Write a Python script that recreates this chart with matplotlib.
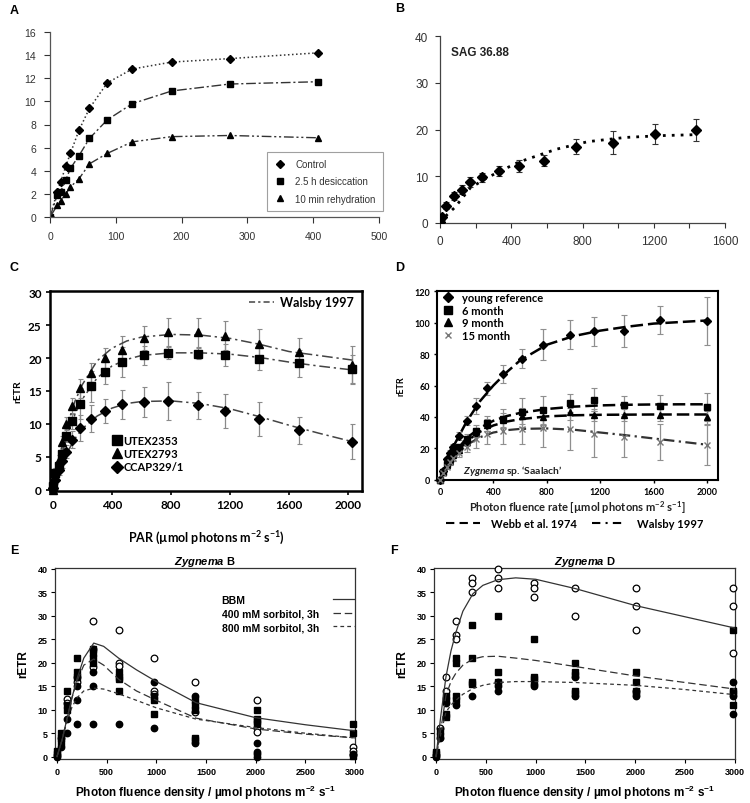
import matplotlib
matplotlib.use('Agg')
import matplotlib.pyplot as plt
from matplotlib.lines import Line2D

plt.rcParams['font.family'] = ['Liberation Sans', 'DejaVu Sans']
plt.rcParams['mathtext.fontset'] = 'custom'
plt.rcParams['mathtext.default'] = 'regular'
plt.rcParams['mathtext.it'] = 'Lato:italic:bold'
plt.rcParams['mathtext.bfit'] = 'Liberation Sans:italic:bold'

# ---------------- Panel A data ----------------
a_x = [0, 11, 16, 24, 31, 44, 60, 87, 125, 185, 273, 408]
a_control = [0, 2.2, 3.0, 4.4, 5.5, 7.5, 9.4, 11.6, 12.8, 13.4, 13.7, 14.2]
a_desicc = [0, 1.9, 2.2, 3.2, 4.2, 5.3, 6.8, 8.4, 9.8, 10.9, 11.5, 11.7]
a_rehyd = [0, 1.0, 1.4, 2.0, 2.6, 3.3, 4.6, 5.5, 6.5, 6.95, 7.05, 6.85]
a_labels = ["Control", "2.5 h desiccation", "10 min rehydration"]

# ---------------- Panel B data ----------------
b_x = [0, 10, 34, 79, 122, 168, 238, 331, 444, 584, 762, 970, 1208, 1438]
b_y = [0.3, 1.2, 3.7, 5.8, 7.1, 8.8, 9.75, 11.1, 12.2, 13.3, 16.3, 17.2, 19.1, 19.9]
b_err = [0.5, 0.6, 0.8, 0.9, 1.0, 1.0, 0.9, 1.0, 1.3, 1.2, 1.6, 2.4, 2.1, 2.3]
b_fit_x = [0, 40, 85, 170, 270, 440, 585, 655, 830, 1040, 1250, 1440]
b_fit_y = [0, 1.8, 3.4, 7.5, 9.8, 13.0, 14.9, 15.8, 17.4, 18.3, 18.7, 18.9]

# ---------------- Panel C data ----------------
c_x = [0, 15, 40, 60, 90, 130, 185, 260, 355, 470, 615, 780, 980, 1165, 1395, 1670, 2025]
c_utex2353 = [0.5, 2.5, 3.6, 5.4, 8.2, 10.5, 13.1, 15.7, 17.9, 19.4, 20.4, 20.8, 20.7, 20.5, 19.9, 19.2, 18.3]
c_utex2353_err = [0.5, 0.8, 0.8, 1.0, 1.0, 1.2, 2.3, 2.3, 1.8, 2.3, 1.5, 1.0, 0.8, 1.7, 1.7, 2.0, 2.2]
c_utex2793 = [0, 2.5, 4.5, 7.2, 10.0, 12.7, 15.4, 17.8, 20.0, 21.3, 23.1, 23.9, 23.9, 23.4, 22.2, 21.0, 19.0]
c_utex2793_err = [0.5, 0.8, 0.8, 1.0, 1.0, 1.2, 1.5, 1.5, 1.5, 2.0, 1.8, 2.2, 2.2, 2.2, 2.2, 2.0, 2.8]
c_ccap = [0.2, 1.5, 3.0, 4.3, 5.8, 7.6, 9.4, 10.8, 12.0, 13.0, 13.35, 13.45, 12.8, 12.0, 10.8, 9.0, 7.3]
c_ccap_err = [0.3, 0.6, 0.8, 1.0, 1.0, 1.3, 2.0, 2.0, 1.8, 2.2, 2.3, 2.9, 2.1, 2.6, 2.6, 2.1, 2.7]
c_fit_x = [0, 50, 100, 150, 200, 300, 400, 500, 600, 800, 1000, 1200, 1400, 1600, 1800, 2030]
c_fit_2793 = [0, 5.5, 10.0, 13.5, 16.0, 19.6, 21.5, 22.6, 23.2, 23.6, 23.5, 23.0, 22.1, 21.0, 20.4, 19.7]
c_fit_2353 = [0, 4.5, 8.5, 11.5, 13.8, 17.0, 18.8, 19.8, 20.4, 20.8, 20.8, 20.6, 20.1, 19.4, 18.8, 18.2]
c_fit_ccap = [0, 3.2, 5.8, 7.8, 9.3, 11.2, 12.4, 13.1, 13.4, 13.5, 13.1, 12.3, 11.1, 9.8, 8.6, 7.3]
c_labels = ["UTEX2353", "UTEX2793", "CCAP329/1"]

# ---------------- Panel D data ----------------
d_x = [0, 25, 50, 75, 100, 140, 200, 270, 355, 475, 615, 775, 975, 1150, 1375, 1650, 2000]
d_young = [0, 5.7, 13, 17, 20.5, 28, 37.5, 47, 58.2, 67.5, 77.2, 86.1, 92.5, 94.7, 94.7, 102, 101.4]
d_young_err = [0.5, 1, 1.5, 2, 2, 2.5, 3, 5, 4.2, 5.8, 6.2, 9.8, 9.5, 9.3, 10.2, 9, 15.3]
d_6m = [0, 5, 10, 13, 17, 20.5, 25.8, 31.1, 35.8, 38.9, 42.8, 44.2, 48.9, 51, 47.6, 46.8, 46.3]
d_6m_err = [0.5, 1, 1, 1.5, 2, 2, 3, 3.7, 4.8, 5.8, 9.3, 9, 5.6, 7.4, 5.6, 7.4, 9.2]
d_9m = [0, 4.5, 9, 12, 15.5, 19, 24, 30, 34.9, 37.9, 40.6, 40, 42.8, 41.1, 41.1, 41.1, 39.6]
d_9m_err = [0.5, 1, 1, 1.5, 1.5, 2, 2.5, 3, 4, 4.5, 5, 5, 4.5, 4, 4, 4, 4]
d_15m = [0, 4, 8, 11, 14, 17, 21, 25.8, 29, 31.1, 32.2, 32.8, 32.2, 29, 27.3, 24.1, 22.2]
d_15m_err = [0.5, 1, 1, 1.5, 2, 2.5, 3.5, 5.8, 6.3, 8.2, 9.5, 12, 13.4, 14.8, 13, 11.6, 12.7]
d_fit_x = [0, 100, 200, 300, 400, 500, 600, 800, 1000, 1200, 1400, 1600, 1800, 2000]
d_fit_young = [0, 21, 37, 50, 60, 68.5, 76, 86, 91.5, 95, 97.5, 99.5, 100.5, 101.5]
d_fit_6m = [0, 16, 26.5, 33, 37.5, 40.5, 42.5, 45, 46.5, 47.3, 47.7, 47.9, 48, 48]
d_fit_9m = [0, 15, 24.5, 30.5, 34.5, 37, 38.5, 40.3, 41, 41.3, 41.4, 41.5, 41.5, 41.5]
d_fit_15m = [0, 14, 22, 27, 30, 31.5, 32.3, 32.6, 31.8, 30, 28.2, 26.2, 24.2, 22.2]
d_labels = ["young reference", "6 month", "9 month", "15 month"]

# ---------------- Panel E data ----------------
e_open_x = [0, 40, 100, 100, 200, 200, 360, 360, 360, 620, 620, 620, 980, 980, 980, 1390, 1390, 2010, 2010, 2010, 2980, 2980, 2980]
e_open_y = [0.3, 4.0, 12.3, 11.5, 16, 17, 29, 23, 19, 27, 20, 19.3, 21, 14, 13.3, 16, 9.5, 12, 6, 5.2, 2.1, 1.2, 0.3]
e_sq_x = [0, 0, 40, 40, 40, 100, 100, 100, 200, 200, 200, 360, 360, 360, 360, 620, 620, 620, 620, 980, 980, 980, 1390, 1390, 1390, 1390, 1390, 2010, 2010, 2010, 2010, 2980, 2980, 2980]
e_sq_y = [0.5, 1.2, 5, 4, 3, 14, 11, 10, 21, 18, 17, 23, 22, 21, 20, 18, 17, 16.5, 14, 13, 12, 9, 12, 11, 10, 4, 3.5, 10, 8, 7.5, 7, 7, 5, 0.2]
e_fill_x = [0, 40, 100, 100, 200, 200, 200, 360, 360, 360, 620, 980, 980, 1390, 1390, 2010, 2010, 2010, 2010, 2980]
e_fill_y = [0, 2, 8, 5, 15, 12, 7, 18, 15, 7, 7, 16, 6, 13, 3, 3, 1, 0.5, 0, 0.5]
ef_fit_x = [0, 50, 100, 150, 200, 270, 370, 470, 620, 800, 1000, 1400, 2000, 2500, 3000]
e_fit_bbm = [0, 3.5, 8, 12.5, 16.5, 21, 24.2, 23.5, 21, 18.5, 16, 11.5, 8.3, 6.8, 5.5]
e_fit_400 = [0, 3.5, 8, 12.5, 16, 19.5, 20.8, 19.5, 16.5, 14, 12, 8.2, 5.9, 4.8, 4.0]
e_fit_800 = [0, 3.5, 7.5, 10.5, 12.5, 14, 14.6, 14.4, 13.4, 12, 10.4, 8.0, 6.2, 5.0, 4.0]
ef_labels = ["BBM", "400 mM sorbitol, 3h", "800 mM sorbitol, 3h"]

# ---------------- Panel F data ----------------
f_open_x = [0, 40, 100, 100, 200, 200, 200, 360, 360, 360, 620, 620, 620, 980, 980, 980, 1390, 1390, 2010, 2010, 2010, 2980, 2980, 2980]
f_open_y = [0.3, 6, 17, 14, 29, 26, 25, 38, 37, 35, 40, 38, 36, 37, 36, 34, 36, 30, 36, 32, 27, 36, 32, 22]
f_sq_x = [0, 0, 40, 40, 100, 100, 100, 100, 200, 200, 200, 200, 360, 360, 360, 360, 620, 620, 620, 980, 980, 980, 1390, 1390, 1390, 1390, 1390, 2010, 2010, 2010, 2010, 2980, 2980, 2980, 2980]
f_sq_y = [1, 0.5, 5.5, 4.5, 13, 12, 9, 8.5, 21, 20, 13, 12, 28, 21, 16, 15.5, 30, 18, 16, 25, 17, 16.5, 20, 18, 17.5, 14, 13.5, 18, 16, 14, 13.5, 27, 14, 13.5, 11]
f_fill_x = [0, 40, 100, 200, 360, 620, 620, 620, 980, 980, 1390, 1390, 2010, 2010, 2980, 2980, 2980]
f_fill_y = [0, 4, 11.5, 11, 13, 14, 15, 16, 15, 15.5, 13, 17, 13, 14, 16, 13, 9]
f_fit_bbm = [0, 9, 17, 22.5, 26.5, 31, 34.7, 36.5, 37.7, 38.1, 37.8, 35.8, 32.2, 29.8, 27.4]
f_fit_400 = [0, 6, 13, 16, 17.8, 19.5, 20.8, 21.3, 21.4, 21, 20.5, 19.2, 17.2, 15.8, 14.4]
f_fit_800 = [0, 5, 9.5, 11, 12, 13.3, 14.5, 15.2, 15.8, 16.0, 16.0, 15.8, 15.2, 14.3, 13.2]

W, H = 750, 804
fig = plt.figure(figsize=(7.5, 8.04), dpi=100)


def axes_px(l, t, r, b):
    return fig.add_axes([l / W, 1 - b / H, (r - l) / W, (b - t) / H])


def panel_label(x, y, s):
    fig.text(x / W, 1 - y / H, s, fontsize=9, fontweight='bold', ha='left', va='center',
             family=['Liberation Sans'])


# ================= Panel A =================
axA = axes_px(50, 33, 379, 218)
lc = '#333333'
axA.plot(a_x, a_control, ls=':', color=lc, lw=1.1, marker='D', ms=3.8, mfc='black', mec='black')
axA.plot(a_x, a_desicc, ls=(0, (7, 2, 1.5, 2)), color=lc, lw=1.0, marker='s', ms=4, mfc='black', mec='black')
axA.plot(a_x, a_rehyd, ls=(0, (7, 2, 1.5, 2, 1.5, 2)), color=lc, lw=1.0, marker='^', ms=4, mfc='black', mec='black')
axA.set_xlim(0, 500)
axA.set_ylim(0, 16)
axA.set_xticks(range(0, 501, 100))
axA.set_yticks(range(0, 17, 2))
for s in ['top', 'right']:
    axA.spines[s].set_visible(False)
for s in ['left', 'bottom']:
    axA.spines[s].set_color('#555555')
    axA.spines[s].set_linewidth(0.9)
axA.tick_params(labelsize=7.5, colors='#333333', length=4, width=0.8, pad=6)
hA = [Line2D([], [], ls='none', marker=m, ms=ms, color='black') for m, ms in [('D', 3.8), ('s', 4), ('^', 4)]]
legA = axA.legend(hA, a_labels, loc='lower left', bbox_to_anchor=(0.66, 0.035), fontsize=7,
                  frameon=True, fancybox=False, edgecolor='#888888', borderaxespad=0,
                  handlelength=1.2, handletextpad=1.0, labelspacing=0.75, borderpad=0.7)
legA.get_frame().set_linewidth(0.8)
for t in legA.get_texts():
    t.set_color('#333333')
panel_label(10, 11, 'A')

# ================= Panel B =================
axB = axes_px(440, 37, 725, 224)
axB.errorbar(b_x, b_y, yerr=b_err, fmt='D', ms=5.5, color='black', ecolor='#333333',
             elinewidth=0.8, capsize=2, capthick=0.8, zorder=3)
axB.plot(b_fit_x, b_fit_y, ls=(0, (1, 2.2)), color='black', lw=2.0, zorder=2)
axB.set_xlim(0, 1600)
axB.set_ylim(0, 40)
axB.set_xticks(range(0, 1601, 400))
axB.set_xticks(range(0, 1601, 200), minor=True)
axB.set_yticks(range(0, 41, 10))
for s in ['top', 'right']:
    axB.spines[s].set_visible(False)
for s in ['left', 'bottom']:
    axB.spines[s].set_color('#444444')
    axB.spines[s].set_linewidth(0.9)
axB.tick_params(which='both', labelsize=8.5, colors='#333333', length=3.5, width=0.8, pad=5)
axB.text(0.04, 0.9, 'SAG 36.88', transform=axB.transAxes, fontsize=8.5, fontweight='bold',
         color='#222222')
panel_label(395, 9, 'B')

# ================= Panel C =================
lato = ['Lato', 'DejaVu Sans']
axC = axes_px(50, 292, 362, 492)
ecol = '#8a8a8a'
for ys, es in [(c_utex2353, c_utex2353_err), (c_utex2793, c_utex2793_err), (c_ccap, c_ccap_err)]:
    axC.errorbar(c_x, ys, yerr=es, fmt='none', ecolor=ecol, elinewidth=0.9, capsize=1.8, capthick=0.8, zorder=1)
for fy in [c_fit_2793, c_fit_2353, c_fit_ccap]:
    axC.plot(c_fit_x, fy, ls=(0, (7, 2.5, 1.5, 2.5)), color='#444444', lw=1.1, zorder=2)
axC.plot(c_x, c_utex2353, ls='none', marker='s', ms=5.5, color='black', zorder=3, clip_on=False)
axC.plot(c_x, c_utex2793, ls='none', marker='^', ms=6, color='black', zorder=3, clip_on=False)
axC.plot(c_x, c_ccap, ls='none', marker='D', ms=4.6, color='black', zorder=3, clip_on=False)
axC.set_xlim(-20, 2095)
axC.set_ylim(-0.2, 30.2)
axC.set_xticks(range(0, 2001, 400))
axC.set_yticks(range(0, 31, 5))
for s in axC.spines.values():
    s.set_linewidth(1.8)
axC.tick_params(labelsize=8.5, length=3, width=1.2, pad=3)
for t in axC.get_xticklabels() + axC.get_yticklabels():
    t.set_family(lato)
    t.set_fontweight('bold')
axC.set_ylabel('rETR', fontsize=7.5, fontweight='bold', family=lato, labelpad=4)
axC.set_xlabel('PAR (µmol photons m$^{-2}$ s$^{-1}$)', fontsize=9, fontweight='bold', family=lato, labelpad=13)
hC = [Line2D([], [], ls='none', marker=m, ms=ms, color='black') for m, ms in [('s', 7), ('^', 7.5), ('D', 6)]]
legC1 = axC.legend(hC, c_labels, loc='upper left', bbox_to_anchor=(0.2, 0.28), frameon=False,
                   handlelength=0.8, handletextpad=0.2, labelspacing=0.2, borderaxespad=0, borderpad=0,
                   prop={'family': lato, 'weight': 'bold', 'size': 8})
axC.add_artist(legC1)
axC.legend([Line2D([], [], ls=(0, (4, 2, 1.5, 2)), color='#444444', lw=1.1)], ['Walsby 1997'],
           loc='upper right', bbox_to_anchor=(0.975, 0.975), frameon=False, handlelength=2.0,
           handletextpad=0.5, borderaxespad=0, borderpad=0,
           prop={'family': lato, 'weight': 'bold', 'size': 9})
panel_label(10, 268, 'C')

# ================= Panel D =================
axD = axes_px(437, 292, 718, 481)
ecolD = '#8f8f8f'
for ys, es in [(d_young, d_young_err), (d_6m, d_6m_err), (d_9m, d_9m_err), (d_15m, d_15m_err)]:
    axD.errorbar(d_x, ys, yerr=es, fmt='none', ecolor=ecolD, elinewidth=0.9, capsize=2.2, capthick=0.8, zorder=1)
webb = (0, (5, 2))
axD.plot(d_fit_x, d_fit_young, ls=webb, color='black', lw=1.8, zorder=2)
axD.plot(d_fit_x, d_fit_6m, ls=webb, color='black', lw=1.8, zorder=2)
axD.plot(d_fit_x, d_fit_9m, ls=webb, color='black', lw=1.8, zorder=2)
axD.plot(d_fit_x, d_fit_15m, ls=(0, (5, 2, 1, 2)), color='#333333', lw=1.6, zorder=2)
axD.plot(d_x, d_young, ls='none', marker='D', ms=4.5, color='black', zorder=3, clip_on=False)
axD.plot(d_x, d_6m, ls='none', marker='s', ms=5, color='black', zorder=3, clip_on=False)
axD.plot(d_x, d_9m, ls='none', marker='^', ms=5, color='black', zorder=3, clip_on=False)
axD.plot(d_x, d_15m, ls='none', marker='x', ms=5, color='#777777', mew=1.0, zorder=3, clip_on=False)
axD.set_xlim(-22, 2082)
axD.set_ylim(-0.3, 120.3)
axD.set_xticks(range(0, 2001, 400))
axD.set_yticks(range(0, 121, 20))
for s in axD.spines.values():
    s.set_linewidth(1.5)
axD.tick_params(labelsize=6.5, length=2, width=1, pad=3)
for t in axD.get_xticklabels() + axD.get_yticklabels():
    t.set_family(lato)
    t.set_fontweight('bold')
axD.set_ylabel('rETR', fontsize=6.5, fontweight='bold', family=lato, labelpad=6)
axD.set_xlabel('Photon fluence rate [µmol photons m$^{-2}$ s$^{-1}$]', fontsize=8, fontweight='bold',
               family=lato, labelpad=2, color='#222222')
hD = [Line2D([], [], ls='none', marker='D', ms=5, color='black'),
      Line2D([], [], ls='none', marker='s', ms=5.5, color='black'),
      Line2D([], [], ls='none', marker='^', ms=5.5, color='black'),
      Line2D([], [], ls='none', marker='x', ms=5, color='#777777')]
legD1 = axD.legend(hD, d_labels, loc='upper left', bbox_to_anchor=(0.02, 0.995), frameon=False,
                   handlelength=0.9, handletextpad=0.8, labelspacing=0.15, borderaxespad=0, borderpad=0,
                   prop={'family': lato, 'weight': 'bold', 'size': 8})
axD.add_artist(legD1)
axD.text(0.27, 0.055, r"$\mathit{Zygnema}$ sp. ‘Saalach’", transform=axD.transAxes, fontsize=7.5,
         fontweight='bold', family=lato, ha='center', va='center', color='#222222')
axD.legend([Line2D([], [], ls=(0, (4, 2.5)), color='black', lw=1.5),
            Line2D([], [], ls=(0, (4, 2.5, 1, 2.5)), color='black', lw=1.5)],
           ['Webb et al. 1974', 'Walsby 1997'], loc='upper center', bbox_to_anchor=(0.49, -0.2),
           ncol=2, frameon=False, handlelength=3.0, handletextpad=1.0, columnspacing=1.4,
           borderaxespad=0, borderpad=0, prop={'family': lato, 'weight': 'bold', 'size': 8})
panel_label(395, 268, 'D')


# ================= Panels E, F =================
def zyg_panel(ax, ox, oy, sx, sy, fx, fy, fits, title):
    ax.plot(ox, oy, ls='none', marker='o', ms=4.8, mfc='white', mec='black', mew=0.9, zorder=3, clip_on=False)
    ax.plot(sx, sy, ls='none', marker='s', ms=4.6, color='black', zorder=3, clip_on=False)
    ax.plot(fx, fy, ls='none', marker='o', ms=4.6, color='black', zorder=3, clip_on=False)
    styles = ['-', (0, (6, 3)), (0, (3, 2.5))]
    for fit, st in zip(fits, styles):
        ax.plot(ef_fit_x, fit, ls=st, color='#333333', lw=0.9, zorder=4)
    ax.set_xlim(-20, 3000)
    ax.set_ylim(-0.5, 40.2)
    ax.set_xticks(range(0, 3001, 500))
    ax.set_yticks(range(0, 41, 5))
    for s in ax.spines.values():
        s.set_linewidth(0.9)
        s.set_color('#333333')
    ax.tick_params(labelsize=6.5, length=3, width=0.8, pad=2.5)
    for t in ax.get_xticklabels() + ax.get_yticklabels():
        t.set_fontweight('bold')
    ax.set_ylabel('rETR', fontsize=8.5, fontweight='bold', labelpad=6)
    ax.set_xlabel('Photon fluence density / µmol photons m$^{-2}$ s$^{-1}$', fontsize=8.5,
                  fontweight='bold', labelpad=5)
    ax.set_title(r'$\mathbfit{Zygnema}$ ' + title, fontsize=8, fontweight='bold', pad=3)


axE = axes_px(55, 569, 355, 760)
zyg_panel(axE, e_open_x, e_open_y, e_sq_x, e_sq_y, e_fill_x, e_fill_y,
          [e_fit_bbm, e_fit_400, e_fit_800], 'B')
# legend: left-aligned labels with the line samples at the right edge
ef_styles = ['-', (0, (6, 3)), (0, (3, 2.5))]
leg_kw = dict(frameon=False, labelspacing=0.35, borderaxespad=0, borderpad=0,
              prop={'weight': 'bold', 'size': 7.5})
legE_txt = axE.legend([Line2D([], [], ls='none') for _ in ef_labels], ef_labels, loc='upper left',
                      bbox_to_anchor=(0.555, 0.86), handlelength=0, handletextpad=0, **leg_kw)
axE.add_artist(legE_txt)
axE.legend([Line2D([], [], ls=st, color='#333333', lw=0.9) for st in ef_styles], [' '] * 3,
           loc='upper right', bbox_to_anchor=(0.995, 0.86), handlelength=2.0, handletextpad=0,
           markerfirst=False, **leg_kw)
panel_label(10, 551, 'E')

axF = axes_px(434, 569, 735, 760)
zyg_panel(axF, f_open_x, f_open_y, f_sq_x, f_sq_y, f_fill_x, f_fill_y,
          [f_fit_bbm, f_fit_400, f_fit_800], 'D')
panel_label(390, 551, 'F')

fig.savefig('out.png', dpi=100, facecolor='white')
